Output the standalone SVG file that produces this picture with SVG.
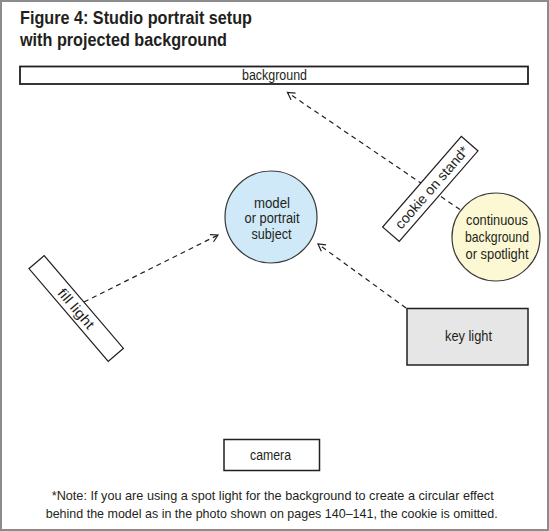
<svg xmlns="http://www.w3.org/2000/svg" width="549" height="531" viewBox="0 0 549 531">
<style>
text{font-family:"Liberation Sans",Arial,sans-serif;fill:#231f20;}
.t{font-size:14px;text-anchor:middle;}
.ty{font-size:15px;text-anchor:middle;}
.title{font-size:17.5px;font-weight:bold;}
.note{font-size:13.5px;text-anchor:middle;}
.box{fill:#fff;stroke:#231f20;stroke-width:1.5;}
.thin{fill:#fff;stroke:#231f20;stroke-width:1.2;}
.dash{fill:none;stroke:#231f20;stroke-width:1.2;stroke-dasharray:5 4;marker-end:url(#arr);}
</style>
<defs>
<marker id="arr" markerUnits="userSpaceOnUse" markerWidth="12" markerHeight="12" viewBox="-10 -6 12 12" refX="0" refY="0" orient="auto">
<path d="M-7,-4 L0,0 L-7,4" fill="none" stroke="#231f20" stroke-width="1.2"/>
</marker>
</defs>
<rect x="1" y="1" width="547" height="529" fill="#fff" stroke="#8c8c8c" stroke-width="2"/>
<g id="title">
<text class="title" x="20" y="24" textLength="232" lengthAdjust="spacingAndGlyphs">Figure 4: Studio portrait setup</text>
<text class="title" x="20" y="46" textLength="207" lengthAdjust="spacingAndGlyphs">with projected background</text>
</g>
<g id="connectors">
<line class="dash" x1="460" y1="209.5" x2="287.5" y2="92.5"/>
<line class="dash" x1="84" y1="302" x2="218" y2="235"/>
<line class="dash" x1="406" y1="308" x2="318" y2="244"/>
</g>
<g id="background">
<rect x="20" y="66.5" width="508" height="17.5" fill="#fff" stroke="#231f20" stroke-width="1.8"/>
<text class="t" x="274.5" y="80" textLength="65" lengthAdjust="spacingAndGlyphs">background</text>
</g>
<g id="model">
<circle cx="271" cy="217" r="46" fill="#cfe9f8" stroke="#3a3a3a" stroke-width="1.2"/>
<text class="t" x="272" y="207.5" textLength="36" lengthAdjust="spacingAndGlyphs">model</text>
<text class="t" x="272" y="223" textLength="55" lengthAdjust="spacingAndGlyphs">or portrait</text>
<text class="t" x="271.5" y="238.5" textLength="40" lengthAdjust="spacingAndGlyphs">subject</text>
</g>
<g id="cookie" transform="translate(430.3,188.9) rotate(-49)">
<rect class="thin" x="-60" y="-11" width="120" height="22"/>
<text class="t" x="2" y="5" textLength="104" lengthAdjust="spacingAndGlyphs">cookie on stand*</text>
</g>
<g id="spotlight">
<circle cx="496" cy="237" r="44" fill="#fdf8d4" stroke="#3a3a3a" stroke-width="1.2"/>
<text class="ty" x="497" y="225" textLength="62" lengthAdjust="spacingAndGlyphs">continuous</text>
<text class="ty" x="497" y="242" textLength="64" lengthAdjust="spacingAndGlyphs">background</text>
<text class="ty" x="497" y="259" textLength="63" lengthAdjust="spacingAndGlyphs">or spotlight</text>
</g>
<g id="fill-light" transform="translate(76.2,308.5) rotate(49.5)">
<rect class="thin" x="-61" y="-10" width="122" height="20"/>
<text class="t" x="0" y="5" textLength="48" lengthAdjust="spacingAndGlyphs">fill light</text>
</g>
<g id="key-light">
<rect x="407" y="308.5" width="121" height="56.5" fill="#e6e6e6" stroke="#231f20" stroke-width="1.5"/>
<text class="t" x="468.5" y="341" textLength="47" lengthAdjust="spacingAndGlyphs">key light</text>
</g>
<g id="camera">
<rect class="box" x="224" y="439.5" width="95.5" height="31"/>
<text class="t" x="270.5" y="459.5" textLength="41" lengthAdjust="spacingAndGlyphs">camera</text>
</g>
<g id="note">
<text class="note" x="272.7" y="499.5" textLength="442" lengthAdjust="spacingAndGlyphs">*Note: If you are using a spot light for the background to create a circular effect</text>
<text class="note" x="271.7" y="517.5" textLength="452" lengthAdjust="spacingAndGlyphs">behind the model as in the photo shown on pages 140–141, the cookie is omitted.</text>
</g>
</svg>
